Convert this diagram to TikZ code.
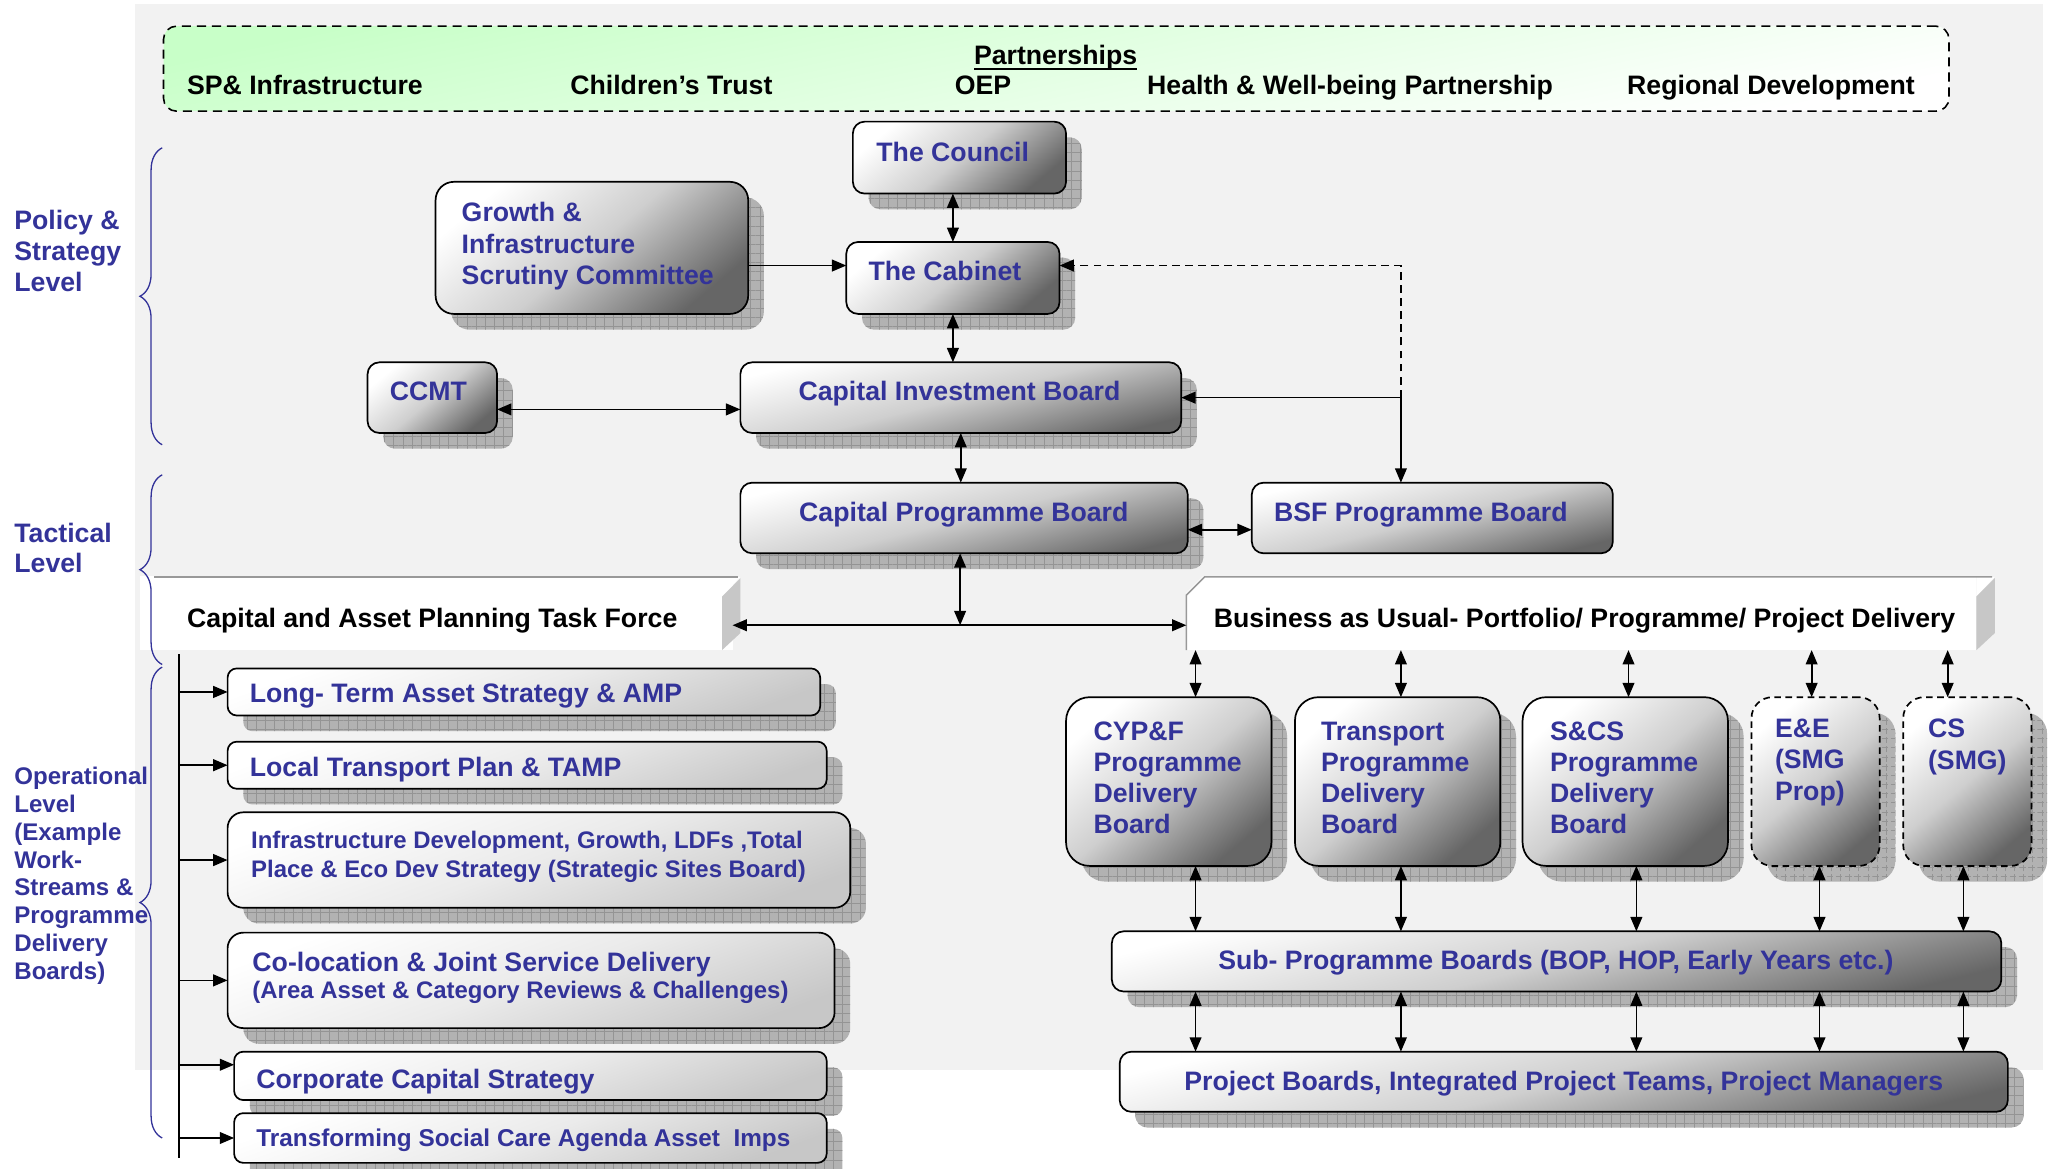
\documentclass[tikz,border=0pt]{standalone}
\usepackage{fontspec}
\setmainfont{Liberation Sans}
\usetikzlibrary{arrows.meta,shadows,patterns.meta,decorations.pathreplacing,calc}
\definecolor{tblue}{HTML}{333399}
\definecolor{bgray}{HTML}{F2F2F2}
\definecolor{pgreen}{HTML}{C8FFC8}
\tikzset{
  base/.style={inner sep=0pt, outer sep=0pt, anchor=north west},
  shad/.style={general shadow={shadow xshift=12pt, shadow yshift=-12pt, fill=black!30},
               general shadow={shadow xshift=12pt, shadow yshift=-12pt,
                 pattern={Hatch[distance=7pt,angle=0,line width=0.5pt]}, pattern color=black!42}},
  gbox/.style={base, draw=black, line width=1.3pt, rounded corners=9pt,
               top color=white, bottom color=black!60, middle color=black!19, shading angle=40},
  wide/.style={shading angle=14},
  lbox/.style={base, draw=black, line width=1.3pt, rounded corners=7pt,
               top color=white, bottom color=black!22, middle color=black!8, shading angle=20, shad},
  dbox/.style={gbox, dashed, dash pattern=on 5pt off 3.5pt},
  band/.style={base, fill=white},
  t/.style={base, text=tblue, font=\bfseries\fontsize{20.4}{24}\selectfont, align=left},
  ts/.style={base, text=tblue, font=\bfseries\fontsize{18.3}{22}\selectfont, align=left},
  k/.style={base, text=black, font=\bfseries\fontsize{20.4}{24}\selectfont, align=left},
  arr/.style={-{Triangle[length=11pt,width=9pt]}, line width=1.3pt},
  dbl/.style={{Triangle[length=11pt,width=9pt]}-{Triangle[length=11pt,width=9pt]}, line width=1.3pt},
  brc/.style={tblue, line width=1pt, decorate, decoration={brace, amplitude=17pt}},
}
\begin{document}
\begin{tikzpicture}[x=1pt,y=-1pt]
\useasboundingbox (0,0) rectangle (1568,893.7);
\fill[bgray] (103,3) rectangle (1562,818);

% ---------- partnerships ----------
\node[base, draw, dashed, dash pattern=on 7pt off 4.5pt, line width=1.2pt, rounded corners=10pt,
      top color=pgreen, bottom color=white, shading angle=12,
      minimum width=1365pt, minimum height=65pt] (partner) at (125,20) {};
\node[k, anchor=north] (ptitle) at (807,34.7) {Partnerships};
\draw[line width=1.5pt] ([yshift=-3pt]ptitle.base west) -- ([yshift=-3pt]ptitle.base east);
\node[k] (p1) at (143,57.7) {SP\& Infrastructure};
\node[k] (p2) at (436,57.7) {Children’s Trust};
\node[k] (p3) at (730,57.7) {OEP};
\node[k] (p4) at (877,57.7) {Health \& Well-being Partnership};
\node[k] (p5) at (1244,57.7) {Regional Development};

% ---------- level labels ----------
\node[t, font=\bfseries\fontsize{20.4}{23.5}\selectfont] (lpolicy) at (11,160.7) {Policy \&\\Strategy\\Level};
\node[t, font=\bfseries\fontsize{20.4}{23.5}\selectfont] (ltact) at (11,399.7) {Tactical\\Level};
\node[ts, font=\bfseries\fontsize{18.4}{21.3}\selectfont] (loper) at (11,586.4)
  {Operational\\Level\\(Example\\Work-\\Streams \&\\Programme\\Delivery\\Boards)};

% ---------- policy & strategy boxes ----------
\node[gbox, shad, minimum width=163pt, minimum height=55pt] (council) at (652,93) {};
\node[t] (councilt) at (670,108.7) {The Council};
\node[gbox, shad, rounded corners=14pt, minimum width=239pt, minimum height=101pt] (growth) at (333,139) {};
\node[t] (growtht) at (353,154.7) {Growth \&\\Infrastructure\\Scrutiny Committee};
\node[gbox, shad, minimum width=163pt, minimum height=55pt] (cabinet) at (647,185) {};
\node[t] (cabinett) at (664,199.7) {The Cabinet};
\node[gbox, shad, minimum width=99pt, minimum height=54pt] (ccmt) at (281,277) {};
\node[t] (ccmtt) at (298,291.7) {CCMT};
\node[gbox, shad, wide, minimum width=337pt, minimum height=54pt] (cib) at (566,277) {};
\node[t, anchor=north] (cibt) at (733.5,291.7) {Capital Investment Board};
\node[gbox, shad, wide, minimum width=342pt, minimum height=54pt] (cpb) at (566,369) {};
\node[t] (cpbt) at (611,383.7) {Capital Programme Board};
\node[gbox, wide, minimum width=276pt, minimum height=54pt] (bsf) at (957,369) {};
\node[t] (bsft) at (974,383.7) {BSF Programme Board};

% ---------- bands ----------
\node[band, minimum width=453pt, minimum height=57pt] (taskforce) at (107,440) {};
\fill[white] (552,441) -- (566,441) -- (552,456) -- cycle;
\fill[black!22] (552,456) -- (566,442) -- (566,484) -- (552,497) -- cycle;
\draw[black!40, line width=1.2pt] (118,441) -- (564,441);
\node[k] (taskforcet) at (143,464.7) {Capital and Asset Planning Task Force};

\node[band, minimum width=604pt, minimum height=57pt] (business) at (907,440) {};
\fill[bgray] (906,439) -- (921,439) -- (906,454) -- cycle;
\fill[white] (1511,441) -- (1525,441) -- (1511,456) -- cycle;
\fill[black!22] (1511,456) -- (1525,442) -- (1525,484) -- (1511,497) -- cycle;
\draw[black!40, line width=1.2pt] (907,497) -- (907,455) -- (921,441) -- (1523,441);
\node[k] (businesst) at (928,464.7) {Business as Usual- Portfolio/ Programme/ Project Delivery};

% ---------- delivery boards ----------
\node[gbox, shad, rounded corners=18pt, minimum width=157pt, minimum height=129pt] (cypf) at (815,533) {};
\node[t, font=\bfseries\fontsize{20.4}{23.7}\selectfont] (cypft) at (836,551.7) {CYP\&F\\Programme\\Delivery\\Board};
\node[gbox, shad, rounded corners=18pt, minimum width=157pt, minimum height=129pt] (transport) at (990,533) {};
\node[t, font=\bfseries\fontsize{20.4}{23.7}\selectfont] (transportt) at (1010,551.7) {Transport\\Programme\\Delivery\\Board};
\node[gbox, shad, rounded corners=18pt, minimum width=157pt, minimum height=129pt] (scs) at (1164,533) {};
\node[t, font=\bfseries\fontsize{20.4}{23.7}\selectfont] (scst) at (1185,551.7) {S\&CS\\Programme\\Delivery\\Board};
\node[dbox, shad, rounded corners=16pt, minimum width=98pt, minimum height=129pt] (ee) at (1339,533) {};
\node[t] (eet) at (1357,549.7) {E\&E\\(SMG\\Prop)};
\node[dbox, shad, rounded corners=16pt, minimum width=98pt, minimum height=129pt] (cs) at (1455,533) {};
\node[t] (cst) at (1474,549.7) {CS\\(SMG)};

\node[gbox, shad, wide, minimum width=680pt, minimum height=46pt] (sub) at (850,712) {};
\node[t, anchor=north] (subt) at (1189.5,726.7) {Sub- Programme Boards (BOP, HOP, Early Years etc.)};
\node[gbox, shad, wide, minimum width=679pt, minimum height=46pt] (project) at (856,804) {};
\node[t, anchor=north] (projectt) at (1195.5,818.7) {Project Boards, Integrated Project Teams, Project Managers};

% ---------- operational list ----------
\node[lbox, minimum width=453pt, minimum height=36pt] (ltam) at (174,511) {};
\node[t] (ltamt) at (191,522.7) {Long- Term Asset Strategy \& AMP};
\node[lbox, minimum width=458pt, minimum height=36pt] (ltp) at (174,567) {};
\node[t] (ltpt) at (191,578.7) {Local Transport Plan \& TAMP};
\node[lbox, rounded corners=12pt, minimum width=476pt, minimum height=73pt] (infra) at (174,621) {};
\node[ts] (infrat) at (192,635.4) {Infrastructure Development, Growth, LDFs ,Total\\Place \& Eco Dev Strategy (Strategic Sites Board)};
\node[lbox, rounded corners=12pt, minimum width=464pt, minimum height=73pt] (coloc) at (174,713) {};
\node[t] (coloct) at (193,727.7) {Co-location \& Joint Service Delivery};
\node[ts] (coloct2) at (193,750.4) {(Area Asset \& Category Reviews \& Challenges)};
\node[lbox, minimum width=453pt, minimum height=37pt] (corp) at (179,804) {};
\node[t] (corpt) at (196,817.7) {Corporate Capital Strategy};
\node[lbox, minimum width=453pt, minimum height=38pt] (tsc) at (179,851) {};
\node[ts, font=\bfseries\fontsize{18.6}{22}\selectfont] (tsct) at (196,863.3) {Transforming Social Care Agenda Asset\ \ Imps};

\coordinate (sptop) at (137,500);
\coordinate (spbot) at (137,885);
\draw[line width=1.3pt] (sptop) -- (spbot);
\draw[arr] (sptop |- ltam.west) -- (ltam.west);
\draw[arr] (sptop |- ltp.west) -- (ltp.west);
\draw[arr] (sptop |- infra.west) -- (infra.west);
\draw[arr] (sptop |- coloc.west) -- (coloc.west);
\draw[arr] ([yshift=8.5pt]corp.west -| sptop) -- ([yshift=8.5pt]corp.west);
\draw[arr] (sptop |- tsc.west) -- (tsc.west);

% ---------- braces ----------
\draw[brc] (124,340) -- (124,113);
\draw[brc] (124,508) -- (124,363);
\draw[brc] (124,870) -- (124,510);

% ---------- connectors ----------
\draw[dbl] (cabinet.north) -- (cabinet.north |- council.south);
\draw[dbl] (cabinet.south) -- (cabinet.south |- cib.north);
\coordinate (gc) at ([yshift=9.5pt]cabinet.west);
\draw[arr] (growth.east |- gc) -- (gc);
\draw[dbl] ([yshift=-9pt]ccmt.east) -- ([yshift=-9pt]ccmt.east -| cib.west);
\draw[dbl] (cib.south) -- (cib.south |- cpb.north);
\coordinate (junc) at (734,478);
\draw[dbl] (junc |- cpb.south) -- (junc);
\draw[dbl] ([yshift=-9.5pt]taskforce.east) -- ([yshift=-9.5pt]business.west);
\coordinate (corner) at (1071,203);
\coordinate (tee) at (1071,304);
\draw[arr, dashed, dash pattern=on 6pt off 4pt] (tee) -- (corner) -- (corner -| cabinet.east);
\draw[arr] (tee) -- (tee -| cib.east);
\draw[arr] (tee) -- (tee |- bsf.north);
\draw[dbl] ([yshift=-9pt]cpb.east) -- ([yshift=-9pt]cpb.east -| bsf.west);

\draw[dbl] ([xshift=20.5pt]cypf.north |- business.south) -- ([xshift=20.5pt]cypf.north);
\draw[dbl] ([xshift=2.5pt]transport.north |- business.south) -- ([xshift=2.5pt]transport.north);
\draw[dbl] ([xshift=2.5pt]scs.north |- business.south) -- ([xshift=2.5pt]scs.north);
\draw[dbl] ([xshift=-3pt]ee.north |- business.south) -- ([xshift=-3pt]ee.north);
\draw[dbl] ([xshift=-15pt]cs.north |- business.south) -- ([xshift=-15pt]cs.north);

\draw[dbl] ([xshift=20.5pt]cypf.south) -- ([xshift=20.5pt]cypf.south |- sub.north);
\draw[dbl] ([xshift=2.5pt]transport.south) -- ([xshift=2.5pt]transport.south |- sub.north);
\draw[dbl] ([xshift=8.5pt]scs.south) -- ([xshift=8.5pt]scs.south |- sub.north);
\draw[dbl] ([xshift=3pt]ee.south) -- ([xshift=3pt]ee.south |- sub.north);
\draw[dbl] ([xshift=-3pt]cs.south) -- ([xshift=-3pt]cs.south |- sub.north);

\draw[dbl] ([xshift=20.5pt]cypf.south |- sub.south) -- ([xshift=20.5pt]cypf.south |- project.north);
\draw[dbl] ([xshift=2.5pt]transport.south |- sub.south) -- ([xshift=2.5pt]transport.south |- project.north);
\draw[dbl] ([xshift=8.5pt]scs.south |- sub.south) -- ([xshift=8.5pt]scs.south |- project.north);
\draw[dbl] ([xshift=3pt]ee.south |- sub.south) -- ([xshift=3pt]ee.south |- project.north);
\draw[dbl] ([xshift=-3pt]cs.south |- sub.south) -- ([xshift=-3pt]cs.south |- project.north);
\end{tikzpicture}
\end{document}
